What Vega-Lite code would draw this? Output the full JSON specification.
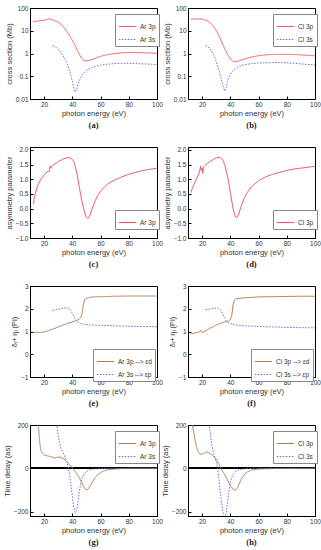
{
"$schema":"https://vega.github.io/schema/vega-lite/v6.json",
"padding":{"left":2,"top":4,"right":4,"bottom":2},
"bounds":"flush","spacing":{"row":48,"column":31},"columns":2,
"resolve":{"scale":{"color":"independent","strokeDash":"independent"},"legend":{"color":"independent","strokeDash":"independent"}},
"datasets":{
"a":[{"x":12,"y":25,"s":"Ar 3p"},{"x":14,"y":26,"s":"Ar 3p"},{"x":16,"y":27,"s":"Ar 3p"},{"x":18,"y":28,"s":"Ar 3p"},{"x":20,"y":29,"s":"Ar 3p"},{"x":22,"y":31,"s":"Ar 3p"},{"x":23.5,"y":33,"s":"Ar 3p"},{"x":24,"y":35,"s":"Ar 3p"},{"x":24.5,"y":31,"s":"Ar 3p"},{"x":26,"y":30,"s":"Ar 3p"},{"x":28,"y":27,"s":"Ar 3p"},{"x":30,"y":24,"s":"Ar 3p"},{"x":32,"y":19,"s":"Ar 3p"},{"x":34,"y":14,"s":"Ar 3p"},{"x":36,"y":9.5,"s":"Ar 3p"},{"x":38,"y":6.2,"s":"Ar 3p"},{"x":40,"y":3.8,"s":"Ar 3p"},{"x":42,"y":2.2,"s":"Ar 3p"},{"x":44,"y":1.2,"s":"Ar 3p"},{"x":46,"y":0.7,"s":"Ar 3p"},{"x":48,"y":0.5,"s":"Ar 3p"},{"x":50,"y":0.47,"s":"Ar 3p"},{"x":52,"y":0.5,"s":"Ar 3p"},{"x":55,"y":0.58,"s":"Ar 3p"},{"x":60,"y":0.75,"s":"Ar 3p"},{"x":65,"y":0.9,"s":"Ar 3p"},{"x":70,"y":1.0,"s":"Ar 3p"},{"x":75,"y":1.07,"s":"Ar 3p"},{"x":80,"y":1.1,"s":"Ar 3p"},{"x":85,"y":1.1,"s":"Ar 3p"},{"x":90,"y":1.08,"s":"Ar 3p"},{"x":95,"y":1.05,"s":"Ar 3p"},{"x":100,"y":1.02,"s":"Ar 3p"},
{"x":26,"y":2.2,"s":"Ar 3s"},{"x":28,"y":2.0,"s":"Ar 3s"},{"x":30,"y":1.6,"s":"Ar 3s"},{"x":32,"y":1.1,"s":"Ar 3s"},{"x":34,"y":0.7,"s":"Ar 3s"},{"x":36,"y":0.4,"s":"Ar 3s"},{"x":38,"y":0.18,"s":"Ar 3s"},{"x":40,"y":0.06,"s":"Ar 3s"},{"x":41,"y":0.03,"s":"Ar 3s"},{"x":42,"y":0.02,"s":"Ar 3s"},{"x":43,"y":0.025,"s":"Ar 3s"},{"x":44,"y":0.045,"s":"Ar 3s"},{"x":46,"y":0.09,"s":"Ar 3s"},{"x":48,"y":0.14,"s":"Ar 3s"},{"x":50,"y":0.18,"s":"Ar 3s"},{"x":55,"y":0.26,"s":"Ar 3s"},{"x":60,"y":0.31,"s":"Ar 3s"},{"x":65,"y":0.34,"s":"Ar 3s"},{"x":70,"y":0.36,"s":"Ar 3s"},{"x":75,"y":0.37,"s":"Ar 3s"},{"x":80,"y":0.37,"s":"Ar 3s"},{"x":85,"y":0.36,"s":"Ar 3s"},{"x":90,"y":0.35,"s":"Ar 3s"},{"x":95,"y":0.34,"s":"Ar 3s"},{"x":100,"y":0.33,"s":"Ar 3s"}],
"b":[{"x":12,"y":32,"s":"Cl 3p"},{"x":14,"y":33,"s":"Cl 3p"},{"x":16,"y":33,"s":"Cl 3p"},{"x":18,"y":33,"s":"Cl 3p"},{"x":20,"y":33,"s":"Cl 3p"},{"x":21,"y":31,"s":"Cl 3p"},{"x":22,"y":30,"s":"Cl 3p"},{"x":24,"y":27,"s":"Cl 3p"},{"x":26,"y":22,"s":"Cl 3p"},{"x":28,"y":16,"s":"Cl 3p"},{"x":30,"y":10.5,"s":"Cl 3p"},{"x":32,"y":6,"s":"Cl 3p"},{"x":34,"y":3.2,"s":"Cl 3p"},{"x":36,"y":1.6,"s":"Cl 3p"},{"x":38,"y":0.9,"s":"Cl 3p"},{"x":40,"y":0.58,"s":"Cl 3p"},{"x":42,"y":0.45,"s":"Cl 3p"},{"x":43,"y":0.43,"s":"Cl 3p"},{"x":45,"y":0.45,"s":"Cl 3p"},{"x":48,"y":0.52,"s":"Cl 3p"},{"x":50,"y":0.58,"s":"Cl 3p"},{"x":55,"y":0.7,"s":"Cl 3p"},{"x":60,"y":0.8,"s":"Cl 3p"},{"x":65,"y":0.87,"s":"Cl 3p"},{"x":70,"y":0.9,"s":"Cl 3p"},{"x":75,"y":0.92,"s":"Cl 3p"},{"x":80,"y":0.92,"s":"Cl 3p"},{"x":85,"y":0.9,"s":"Cl 3p"},{"x":90,"y":0.87,"s":"Cl 3p"},{"x":95,"y":0.83,"s":"Cl 3p"},{"x":100,"y":0.79,"s":"Cl 3p"},
{"x":22.5,"y":2.3,"s":"Cl 3s"},{"x":24,"y":2.0,"s":"Cl 3s"},{"x":26,"y":1.5,"s":"Cl 3s"},{"x":28,"y":0.9,"s":"Cl 3s"},{"x":30,"y":0.45,"s":"Cl 3s"},{"x":32,"y":0.18,"s":"Cl 3s"},{"x":34,"y":0.06,"s":"Cl 3s"},{"x":35,"y":0.035,"s":"Cl 3s"},{"x":36,"y":0.022,"s":"Cl 3s"},{"x":37,"y":0.03,"s":"Cl 3s"},{"x":38,"y":0.06,"s":"Cl 3s"},{"x":40,"y":0.12,"s":"Cl 3s"},{"x":42,"y":0.18,"s":"Cl 3s"},{"x":44,"y":0.23,"s":"Cl 3s"},{"x":46,"y":0.27,"s":"Cl 3s"},{"x":50,"y":0.32,"s":"Cl 3s"},{"x":55,"y":0.36,"s":"Cl 3s"},{"x":60,"y":0.38,"s":"Cl 3s"},{"x":65,"y":0.39,"s":"Cl 3s"},{"x":70,"y":0.4,"s":"Cl 3s"},{"x":75,"y":0.4,"s":"Cl 3s"},{"x":80,"y":0.39,"s":"Cl 3s"},{"x":85,"y":0.37,"s":"Cl 3s"},{"x":90,"y":0.35,"s":"Cl 3s"},{"x":95,"y":0.33,"s":"Cl 3s"},{"x":100,"y":0.31,"s":"Cl 3s"}],
"c":[{"x":12.5,"y":0.15,"s":"Ar 3p"},{"x":13,"y":0.35,"s":"Ar 3p"},{"x":14,"y":0.55,"s":"Ar 3p"},{"x":15,"y":0.72,"s":"Ar 3p"},{"x":16,"y":0.85,"s":"Ar 3p"},{"x":18,"y":1.02,"s":"Ar 3p"},{"x":20,"y":1.15,"s":"Ar 3p"},{"x":22,"y":1.25,"s":"Ar 3p"},{"x":23,"y":1.27,"s":"Ar 3p"},{"x":23.5,"y":1.25,"s":"Ar 3p"},{"x":24,"y":1.35,"s":"Ar 3p"},{"x":24.3,"y":1.45,"s":"Ar 3p"},{"x":24.6,"y":1.38,"s":"Ar 3p"},{"x":25,"y":1.42,"s":"Ar 3p"},{"x":27,"y":1.5,"s":"Ar 3p"},{"x":30,"y":1.6,"s":"Ar 3p"},{"x":33,"y":1.68,"s":"Ar 3p"},{"x":36,"y":1.73,"s":"Ar 3p"},{"x":38,"y":1.74,"s":"Ar 3p"},{"x":40,"y":1.68,"s":"Ar 3p"},{"x":41,"y":1.6,"s":"Ar 3p"},{"x":42,"y":1.45,"s":"Ar 3p"},{"x":43,"y":1.25,"s":"Ar 3p"},{"x":44,"y":1.0,"s":"Ar 3p"},{"x":45,"y":0.72,"s":"Ar 3p"},{"x":46,"y":0.45,"s":"Ar 3p"},{"x":47,"y":0.2,"s":"Ar 3p"},{"x":48,"y":0.0,"s":"Ar 3p"},{"x":49,"y":-0.18,"s":"Ar 3p"},{"x":50,"y":-0.3,"s":"Ar 3p"},{"x":51,"y":-0.33,"s":"Ar 3p"},{"x":52,"y":-0.27,"s":"Ar 3p"},{"x":53,"y":-0.15,"s":"Ar 3p"},{"x":54,"y":0.0,"s":"Ar 3p"},{"x":56,"y":0.25,"s":"Ar 3p"},{"x":58,"y":0.45,"s":"Ar 3p"},{"x":60,"y":0.6,"s":"Ar 3p"},{"x":63,"y":0.75,"s":"Ar 3p"},{"x":66,"y":0.87,"s":"Ar 3p"},{"x":70,"y":0.98,"s":"Ar 3p"},{"x":75,"y":1.08,"s":"Ar 3p"},{"x":80,"y":1.17,"s":"Ar 3p"},{"x":85,"y":1.24,"s":"Ar 3p"},{"x":90,"y":1.3,"s":"Ar 3p"},{"x":95,"y":1.34,"s":"Ar 3p"},{"x":100,"y":1.38,"s":"Ar 3p"}],
"d":[{"x":12,"y":0.55,"s":"Cl 3p"},{"x":13,"y":0.68,"s":"Cl 3p"},{"x":14,"y":0.8,"s":"Cl 3p"},{"x":16,"y":1.02,"s":"Cl 3p"},{"x":18,"y":1.22,"s":"Cl 3p"},{"x":19,"y":1.45,"s":"Cl 3p"},{"x":19.5,"y":1.3,"s":"Cl 3p"},{"x":20,"y":1.38,"s":"Cl 3p"},{"x":20.5,"y":1.2,"s":"Cl 3p"},{"x":21,"y":1.42,"s":"Cl 3p"},{"x":22,"y":1.47,"s":"Cl 3p"},{"x":24,"y":1.55,"s":"Cl 3p"},{"x":26,"y":1.62,"s":"Cl 3p"},{"x":28,"y":1.68,"s":"Cl 3p"},{"x":30,"y":1.73,"s":"Cl 3p"},{"x":32,"y":1.75,"s":"Cl 3p"},{"x":33,"y":1.74,"s":"Cl 3p"},{"x":34,"y":1.7,"s":"Cl 3p"},{"x":35,"y":1.62,"s":"Cl 3p"},{"x":36,"y":1.5,"s":"Cl 3p"},{"x":37,"y":1.3,"s":"Cl 3p"},{"x":38,"y":1.1,"s":"Cl 3p"},{"x":39,"y":0.85,"s":"Cl 3p"},{"x":40,"y":0.55,"s":"Cl 3p"},{"x":41,"y":0.25,"s":"Cl 3p"},{"x":42,"y":0.0,"s":"Cl 3p"},{"x":43,"y":-0.2,"s":"Cl 3p"},{"x":44,"y":-0.3,"s":"Cl 3p"},{"x":45,"y":-0.28,"s":"Cl 3p"},{"x":46,"y":-0.18,"s":"Cl 3p"},{"x":47,"y":-0.02,"s":"Cl 3p"},{"x":48,"y":0.12,"s":"Cl 3p"},{"x":50,"y":0.38,"s":"Cl 3p"},{"x":52,"y":0.55,"s":"Cl 3p"},{"x":55,"y":0.75,"s":"Cl 3p"},{"x":60,"y":0.95,"s":"Cl 3p"},{"x":65,"y":1.08,"s":"Cl 3p"},{"x":70,"y":1.17,"s":"Cl 3p"},{"x":75,"y":1.24,"s":"Cl 3p"},{"x":80,"y":1.3,"s":"Cl 3p"},{"x":85,"y":1.35,"s":"Cl 3p"},{"x":90,"y":1.38,"s":"Cl 3p"},{"x":95,"y":1.41,"s":"Cl 3p"},{"x":100,"y":1.44,"s":"Cl 3p"}],
"e":[{"x":12,"y":0.97,"s":"Ar 3p --> εd"},{"x":15,"y":0.95,"s":"Ar 3p --> εd"},{"x":18,"y":0.96,"s":"Ar 3p --> εd"},{"x":20,"y":0.98,"s":"Ar 3p --> εd"},{"x":22,"y":1.02,"s":"Ar 3p --> εd"},{"x":24,"y":1.05,"s":"Ar 3p --> εd"},{"x":25,"y":1.08,"s":"Ar 3p --> εd"},{"x":28,"y":1.15,"s":"Ar 3p --> εd"},{"x":30,"y":1.2,"s":"Ar 3p --> εd"},{"x":33,"y":1.27,"s":"Ar 3p --> εd"},{"x":36,"y":1.35,"s":"Ar 3p --> εd"},{"x":40,"y":1.42,"s":"Ar 3p --> εd"},{"x":43,"y":1.48,"s":"Ar 3p --> εd"},{"x":45,"y":1.55,"s":"Ar 3p --> εd"},{"x":46,"y":1.62,"s":"Ar 3p --> εd"},{"x":47,"y":1.8,"s":"Ar 3p --> εd"},{"x":47.5,"y":2.05,"s":"Ar 3p --> εd"},{"x":48,"y":2.25,"s":"Ar 3p --> εd"},{"x":49,"y":2.42,"s":"Ar 3p --> εd"},{"x":50,"y":2.47,"s":"Ar 3p --> εd"},{"x":52,"y":2.5,"s":"Ar 3p --> εd"},{"x":55,"y":2.52,"s":"Ar 3p --> εd"},{"x":60,"y":2.53,"s":"Ar 3p --> εd"},{"x":70,"y":2.55,"s":"Ar 3p --> εd"},{"x":80,"y":2.56,"s":"Ar 3p --> εd"},{"x":90,"y":2.56,"s":"Ar 3p --> εd"},{"x":100,"y":2.56,"s":"Ar 3p --> εd"},
{"x":26,"y":1.93,"s":"Ar 3s --> εp"},{"x":28,"y":1.95,"s":"Ar 3s --> εp"},{"x":30,"y":1.98,"s":"Ar 3s --> εp"},{"x":32,"y":2.0,"s":"Ar 3s --> εp"},{"x":34,"y":2.03,"s":"Ar 3s --> εp"},{"x":36,"y":2.05,"s":"Ar 3s --> εp"},{"x":38,"y":2.0,"s":"Ar 3s --> εp"},{"x":40,"y":1.8,"s":"Ar 3s --> εp"},{"x":41,"y":1.68,"s":"Ar 3s --> εp"},{"x":42,"y":1.57,"s":"Ar 3s --> εp"},{"x":43,"y":1.48,"s":"Ar 3s --> εp"},{"x":44,"y":1.42,"s":"Ar 3s --> εp"},{"x":46,"y":1.36,"s":"Ar 3s --> εp"},{"x":48,"y":1.32,"s":"Ar 3s --> εp"},{"x":50,"y":1.3,"s":"Ar 3s --> εp"},{"x":55,"y":1.28,"s":"Ar 3s --> εp"},{"x":60,"y":1.27,"s":"Ar 3s --> εp"},{"x":70,"y":1.25,"s":"Ar 3s --> εp"},{"x":80,"y":1.23,"s":"Ar 3s --> εp"},{"x":90,"y":1.22,"s":"Ar 3s --> εp"},{"x":100,"y":1.21,"s":"Ar 3s --> εp"}],
"f":[{"x":12,"y":0.9,"s":"Cl 3p --> εd"},{"x":14,"y":0.92,"s":"Cl 3p --> εd"},{"x":16,"y":0.95,"s":"Cl 3p --> εd"},{"x":18,"y":0.98,"s":"Cl 3p --> εd"},{"x":19,"y":1.06,"s":"Cl 3p --> εd"},{"x":19.5,"y":1.0,"s":"Cl 3p --> εd"},{"x":20,"y":0.95,"s":"Cl 3p --> εd"},{"x":21,"y":0.98,"s":"Cl 3p --> εd"},{"x":23,"y":1.05,"s":"Cl 3p --> εd"},{"x":25,"y":1.12,"s":"Cl 3p --> εd"},{"x":28,"y":1.22,"s":"Cl 3p --> εd"},{"x":30,"y":1.28,"s":"Cl 3p --> εd"},{"x":33,"y":1.36,"s":"Cl 3p --> εd"},{"x":36,"y":1.42,"s":"Cl 3p --> εd"},{"x":38,"y":1.45,"s":"Cl 3p --> εd"},{"x":40,"y":1.52,"s":"Cl 3p --> εd"},{"x":41,"y":1.7,"s":"Cl 3p --> εd"},{"x":41.5,"y":1.95,"s":"Cl 3p --> εd"},{"x":42,"y":2.2,"s":"Cl 3p --> εd"},{"x":43,"y":2.38,"s":"Cl 3p --> εd"},{"x":44,"y":2.43,"s":"Cl 3p --> εd"},{"x":46,"y":2.46,"s":"Cl 3p --> εd"},{"x":50,"y":2.48,"s":"Cl 3p --> εd"},{"x":60,"y":2.52,"s":"Cl 3p --> εd"},{"x":70,"y":2.53,"s":"Cl 3p --> εd"},{"x":80,"y":2.54,"s":"Cl 3p --> εd"},{"x":90,"y":2.55,"s":"Cl 3p --> εd"},{"x":100,"y":2.55,"s":"Cl 3p --> εd"},
{"x":22.5,"y":1.97,"s":"Cl 3s --> εp"},{"x":25,"y":1.98,"s":"Cl 3s --> εp"},{"x":28,"y":2.02,"s":"Cl 3s --> εp"},{"x":31,"y":2.03,"s":"Cl 3s --> εp"},{"x":33,"y":1.95,"s":"Cl 3s --> εp"},{"x":34,"y":1.85,"s":"Cl 3s --> εp"},{"x":35,"y":1.72,"s":"Cl 3s --> εp"},{"x":36,"y":1.58,"s":"Cl 3s --> εp"},{"x":37,"y":1.47,"s":"Cl 3s --> εp"},{"x":38,"y":1.4,"s":"Cl 3s --> εp"},{"x":40,"y":1.35,"s":"Cl 3s --> εp"},{"x":43,"y":1.3,"s":"Cl 3s --> εp"},{"x":46,"y":1.27,"s":"Cl 3s --> εp"},{"x":50,"y":1.25,"s":"Cl 3s --> εp"},{"x":60,"y":1.22,"s":"Cl 3s --> εp"},{"x":70,"y":1.2,"s":"Cl 3s --> εp"},{"x":80,"y":1.18,"s":"Cl 3s --> εp"},{"x":90,"y":1.17,"s":"Cl 3s --> εp"},{"x":100,"y":1.16,"s":"Cl 3s --> εp"}],
"g":[{"x":15.8,"y":220,"s":"Ar 3p"},{"x":16,"y":200,"s":"Ar 3p"},{"x":16.5,"y":150,"s":"Ar 3p"},{"x":17,"y":115,"s":"Ar 3p"},{"x":17.5,"y":90,"s":"Ar 3p"},{"x":18,"y":78,"s":"Ar 3p"},{"x":19,"y":68,"s":"Ar 3p"},{"x":20,"y":62,"s":"Ar 3p"},{"x":22,"y":58,"s":"Ar 3p"},{"x":24,"y":55,"s":"Ar 3p"},{"x":26,"y":51,"s":"Ar 3p"},{"x":28,"y":48,"s":"Ar 3p"},{"x":29,"y":50,"s":"Ar 3p"},{"x":30,"y":52,"s":"Ar 3p"},{"x":31,"y":52,"s":"Ar 3p"},{"x":32,"y":50,"s":"Ar 3p"},{"x":34,"y":43,"s":"Ar 3p"},{"x":36,"y":31,"s":"Ar 3p"},{"x":38,"y":17,"s":"Ar 3p"},{"x":40,"y":2,"s":"Ar 3p"},{"x":42,"y":-14,"s":"Ar 3p"},{"x":44,"y":-33,"s":"Ar 3p"},{"x":46,"y":-57,"s":"Ar 3p"},{"x":48,"y":-84,"s":"Ar 3p"},{"x":49,"y":-95,"s":"Ar 3p"},{"x":50,"y":-99,"s":"Ar 3p"},{"x":51,"y":-97,"s":"Ar 3p"},{"x":52,"y":-88,"s":"Ar 3p"},{"x":54,"y":-66,"s":"Ar 3p"},{"x":56,"y":-44,"s":"Ar 3p"},{"x":58,"y":-29,"s":"Ar 3p"},{"x":60,"y":-20,"s":"Ar 3p"},{"x":62,"y":-13,"s":"Ar 3p"},{"x":65,"y":-7,"s":"Ar 3p"},{"x":70,"y":-3,"s":"Ar 3p"},{"x":75,"y":-1,"s":"Ar 3p"},{"x":80,"y":0,"s":"Ar 3p"},{"x":100,"y":0,"s":"Ar 3p"},
{"x":28.5,"y":220,"s":"Ar 3s"},{"x":29,"y":200,"s":"Ar 3s"},{"x":30,"y":150,"s":"Ar 3s"},{"x":31,"y":115,"s":"Ar 3s"},{"x":32,"y":92,"s":"Ar 3s"},{"x":33,"y":78,"s":"Ar 3s"},{"x":34,"y":66,"s":"Ar 3s"},{"x":35,"y":50,"s":"Ar 3s"},{"x":36,"y":32,"s":"Ar 3s"},{"x":37,"y":10,"s":"Ar 3s"},{"x":38,"y":-25,"s":"Ar 3s"},{"x":39,"y":-75,"s":"Ar 3s"},{"x":40,"y":-130,"s":"Ar 3s"},{"x":41,"y":-180,"s":"Ar 3s"},{"x":42,"y":-204,"s":"Ar 3s"},{"x":43,"y":-195,"s":"Ar 3s"},{"x":44,"y":-155,"s":"Ar 3s"},{"x":45,"y":-105,"s":"Ar 3s"},{"x":46,"y":-68,"s":"Ar 3s"},{"x":47,"y":-45,"s":"Ar 3s"},{"x":48,"y":-30,"s":"Ar 3s"},{"x":50,"y":-15,"s":"Ar 3s"},{"x":52,"y":-8,"s":"Ar 3s"},{"x":55,"y":-3,"s":"Ar 3s"},{"x":60,"y":-1,"s":"Ar 3s"},{"x":70,"y":0,"s":"Ar 3s"},{"x":100,"y":0,"s":"Ar 3s"}],
"h":[{"x":13,"y":200,"s":"Cl 3p"},{"x":14,"y":170,"s":"Cl 3p"},{"x":15,"y":130,"s":"Cl 3p"},{"x":16,"y":100,"s":"Cl 3p"},{"x":17,"y":78,"s":"Cl 3p"},{"x":18,"y":68,"s":"Cl 3p"},{"x":20,"y":65,"s":"Cl 3p"},{"x":22,"y":70,"s":"Cl 3p"},{"x":23,"y":75,"s":"Cl 3p"},{"x":24,"y":74,"s":"Cl 3p"},{"x":26,"y":67,"s":"Cl 3p"},{"x":28,"y":57,"s":"Cl 3p"},{"x":30,"y":42,"s":"Cl 3p"},{"x":32,"y":18,"s":"Cl 3p"},{"x":34,"y":-8,"s":"Cl 3p"},{"x":36,"y":-30,"s":"Cl 3p"},{"x":38,"y":-54,"s":"Cl 3p"},{"x":40,"y":-79,"s":"Cl 3p"},{"x":42,"y":-97,"s":"Cl 3p"},{"x":43,"y":-100,"s":"Cl 3p"},{"x":44,"y":-98,"s":"Cl 3p"},{"x":45,"y":-90,"s":"Cl 3p"},{"x":46,"y":-76,"s":"Cl 3p"},{"x":48,"y":-47,"s":"Cl 3p"},{"x":50,"y":-28,"s":"Cl 3p"},{"x":52,"y":-17,"s":"Cl 3p"},{"x":55,"y":-8,"s":"Cl 3p"},{"x":60,"y":-3,"s":"Cl 3p"},{"x":70,"y":-1,"s":"Cl 3p"},{"x":80,"y":0,"s":"Cl 3p"},{"x":100,"y":0,"s":"Cl 3p"},
{"x":24.5,"y":220,"s":"Cl 3s"},{"x":25,"y":200,"s":"Cl 3s"},{"x":26,"y":150,"s":"Cl 3s"},{"x":27,"y":105,"s":"Cl 3s"},{"x":28,"y":75,"s":"Cl 3s"},{"x":29,"y":50,"s":"Cl 3s"},{"x":30,"y":28,"s":"Cl 3s"},{"x":31,"y":0,"s":"Cl 3s"},{"x":32,"y":-55,"s":"Cl 3s"},{"x":33,"y":-115,"s":"Cl 3s"},{"x":34,"y":-170,"s":"Cl 3s"},{"x":35,"y":-210,"s":"Cl 3s"},{"x":36,"y":-230,"s":"Cl 3s"},{"x":37,"y":-210,"s":"Cl 3s"},{"x":38,"y":-155,"s":"Cl 3s"},{"x":39,"y":-105,"s":"Cl 3s"},{"x":40,"y":-65,"s":"Cl 3s"},{"x":41,"y":-42,"s":"Cl 3s"},{"x":42,"y":-28,"s":"Cl 3s"},{"x":44,"y":-13,"s":"Cl 3s"},{"x":46,"y":-6,"s":"Cl 3s"},{"x":50,"y":-2,"s":"Cl 3s"},{"x":55,"y":0,"s":"Cl 3s"},{"x":100,"y":0,"s":"Cl 3s"}]
},
"concat":[
{"width":127,"height":91,"data":{"name":"a"},"title":"(a)","mark":{"type":"line","strokeWidth":1,"clip":true},
"encoding":{"x":{"field":"x","type":"quantitative","scale":{"domain":[10,100]},"axis":{"title":"photon energy (eV)","values":[20,40,60,80,100]}},
"y":{"field":"y","type":"quantitative","scale":{"type":"log","domain":[0.01,100]},"axis":{"title":"cross section (Mb)","values":[0.01,0.1,1,10,100],"format":"~g"}},
"color":{"field":"s","type":"nominal","scale":{"domain":["Ar 3p","Ar 3s"],"range":["#f45a6a","#6a6ae0"]},"legend":{"orient":"none","legendX":85,"legendY":6}},
"strokeDash":{"field":"s","type":"nominal","scale":{"domain":["Ar 3p","Ar 3s"],"range":[[1,0],[1.5,1.5]]},"legend":{"orient":"none","legendX":85,"legendY":6}}}},
{"width":127,"height":91,"data":{"name":"b"},"title":"(b)","mark":{"type":"line","strokeWidth":1,"clip":true},
"encoding":{"x":{"field":"x","type":"quantitative","scale":{"domain":[10,100]},"axis":{"title":"photon energy (eV)","values":[20,40,60,80,100]}},
"y":{"field":"y","type":"quantitative","scale":{"type":"log","domain":[0.01,100]},"axis":{"title":"cross section (Mb)","values":[0.01,0.1,1,10,100],"format":"~g"}},
"color":{"field":"s","type":"nominal","scale":{"domain":["Cl 3p","Cl 3s"],"range":["#f45a6a","#6a6ae0"]},"legend":{"orient":"none","legendX":85,"legendY":6}},
"strokeDash":{"field":"s","type":"nominal","scale":{"domain":["Cl 3p","Cl 3s"],"range":[[1,0],[1.5,1.5]]},"legend":{"orient":"none","legendX":85,"legendY":6}}}},
{"width":127,"height":91,"data":{"name":"c"},"title":"(c)","mark":{"type":"line","strokeWidth":1,"clip":true},
"encoding":{"x":{"field":"x","type":"quantitative","scale":{"domain":[10,100]},"axis":{"title":"photon energy (eV)","values":[20,40,60,80,100]}},
"y":{"field":"y","type":"quantitative","scale":{"domain":[-1,2.1],"nice":false},"axis":{"title":"asymmetry parameter","values":[-1,-0.5,0,0.5,1,1.5,2],"format":".1f"}},
"color":{"field":"s","type":"nominal","scale":{"domain":["Ar 3p"],"range":["#f45a6a"]},"legend":{"orient":"none","legendX":85,"legendY":63}}}},
{"width":127,"height":91,"data":{"name":"d"},"title":"(d)","mark":{"type":"line","strokeWidth":1,"clip":true},
"encoding":{"x":{"field":"x","type":"quantitative","scale":{"domain":[10,100]},"axis":{"title":"photon energy (eV)","values":[20,40,60,80,100]}},
"y":{"field":"y","type":"quantitative","scale":{"domain":[-1,2.1],"nice":false},"axis":{"title":"asymmetry parameter","values":[-1,-0.5,0,0.5,1,1.5,2],"format":".1f"}},
"color":{"field":"s","type":"nominal","scale":{"domain":["Cl 3p"],"range":["#f45a6a"]},"legend":{"orient":"none","legendX":85,"legendY":63}}}},
{"width":127,"height":91,"data":{"name":"e"},"title":"(e)","mark":{"type":"line","strokeWidth":1,"clip":true},
"encoding":{"x":{"field":"x","type":"quantitative","scale":{"domain":[10,100]},"axis":{"title":"photon energy (eV)","values":[20,40,60,80,100]}},
"y":{"field":"y","type":"quantitative","scale":{"domain":[-1,3],"nice":false},"axis":{"title":"δₗ+ ηₗ (Pi)","values":[-1,0,1,2,3]}},
"color":{"field":"s","type":"nominal","scale":{"domain":["Ar 3p --> εd","Ar 3s --> εp"],"range":["#b47c55","#6a6ae0"]},"legend":{"orient":"none","legendX":63,"legendY":63}},
"strokeDash":{"field":"s","type":"nominal","scale":{"domain":["Ar 3p --> εd","Ar 3s --> εp"],"range":[[1,0],[1.5,1.5]]},"legend":{"orient":"none","legendX":63,"legendY":63}}}},
{"width":127,"height":91,"data":{"name":"f"},"title":"(f)","mark":{"type":"line","strokeWidth":1,"clip":true},
"encoding":{"x":{"field":"x","type":"quantitative","scale":{"domain":[10,100]},"axis":{"title":"photon energy (eV)","values":[20,40,60,80,100]}},
"y":{"field":"y","type":"quantitative","scale":{"domain":[-1,3],"nice":false},"axis":{"title":"δₗ+ ηₗ (Pi)","values":[-1,0,1,2,3]}},
"color":{"field":"s","type":"nominal","scale":{"domain":["Cl 3p --> εd","Cl 3s --> εp"],"range":["#b47c55","#6a6ae0"]},"legend":{"orient":"none","legendX":63,"legendY":63}},
"strokeDash":{"field":"s","type":"nominal","scale":{"domain":["Cl 3p --> εd","Cl 3s --> εp"],"range":[[1,0],[1.5,1.5]]},"legend":{"orient":"none","legendX":63,"legendY":63}}}},
{"width":127,"height":91,"data":{"name":"g"},"title":"(g)","layer":[
{"mark":{"type":"rule","color":"#000","strokeWidth":0.8},"encoding":{"y":{"datum":0}}},
{"mark":{"type":"line","strokeWidth":1,"clip":true},
"encoding":{"x":{"field":"x","type":"quantitative","scale":{"domain":[10,100]},"axis":{"title":"photon energy (eV)","values":[20,40,60,80,100]}},
"y":{"field":"y","type":"quantitative","scale":{"domain":[-220,200],"nice":false},"axis":{"title":"Time delay (as)","values":[-200,-150,-100,-50,0,50,100,150,200]}},
"color":{"field":"s","type":"nominal","scale":{"domain":["Ar 3p","Ar 3s"],"range":["#b47c55","#6a6ae0"]},"legend":{"orient":"none","legendX":85,"legendY":6}},
"strokeDash":{"field":"s","type":"nominal","scale":{"domain":["Ar 3p","Ar 3s"],"range":[[1,0],[1.5,1.5]]},"legend":{"orient":"none","legendX":85,"legendY":6}}}}]},
{"width":127,"height":91,"data":{"name":"h"},"title":"(h)","layer":[
{"mark":{"type":"rule","color":"#000","strokeWidth":0.8},"encoding":{"y":{"datum":0}}},
{"mark":{"type":"line","strokeWidth":1,"clip":true},
"encoding":{"x":{"field":"x","type":"quantitative","scale":{"domain":[10,100]},"axis":{"title":"photon energy (eV)","values":[20,40,60,80,100]}},
"y":{"field":"y","type":"quantitative","scale":{"domain":[-220,200],"nice":false},"axis":{"title":"Time delay (as)","values":[-200,-150,-100,-50,0,50,100,150,200]}},
"color":{"field":"s","type":"nominal","scale":{"domain":["Cl 3p","Cl 3s"],"range":["#b47c55","#6a6ae0"]},"legend":{"orient":"none","legendX":85,"legendY":6}},
"strokeDash":{"field":"s","type":"nominal","scale":{"domain":["Cl 3p","Cl 3s"],"range":[[1,0],[1.5,1.5]]},"legend":{"orient":"none","legendX":85,"legendY":6}}}}]}
],
"config":{
"font":"Liberation Sans",
"view":{"stroke":"#000","strokeWidth":1},
"axis":{"labelFontSize":6.5,"titleFontSize":7.5,"labelColor":"#333","titleColor":"#333","titleFontWeight":"normal","grid":false,"domainColor":"#000","tickColor":"#000","tickSize":-3,"labelPadding":5,"titlePadding":2},
"axisX":{"labelFlush":false},
"axisY":{"labelFlush":false},
"legend":{"title":null,"labelFontSize":6.5,"labelColor":"#333","symbolType":"stroke","symbolSize":300,"symbolStrokeWidth":1.2,"rowPadding":0,"padding":3,"strokeColor":"#888","fillColor":"#fff","labelOffset":3,"cornerRadius":0},
"title":{"orient":"bottom","font":"Liberation Serif","fontSize":8.5,"fontWeight":"bold","color":"#222","offset":4}
}
}
